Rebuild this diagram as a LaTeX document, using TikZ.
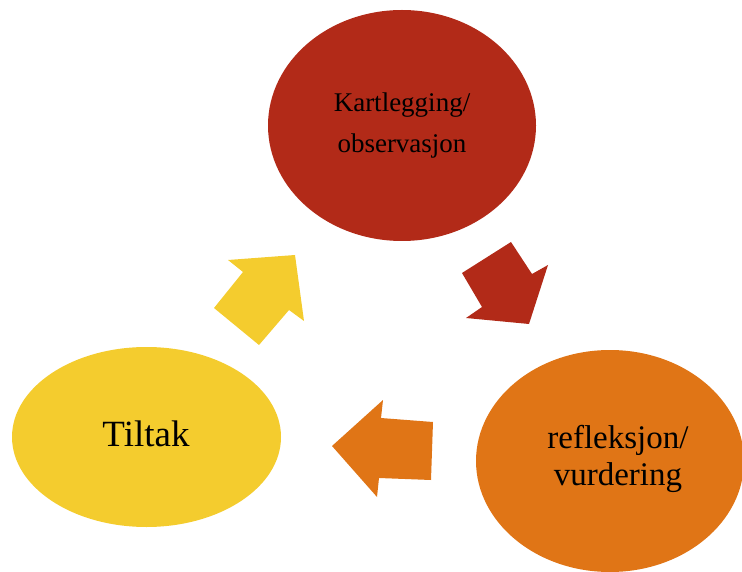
\documentclass[tikz,border=0pt]{standalone}
\usepackage{fontspec}
\setmainfont{Liberation Serif}
\definecolor{cred}{RGB}{178,42,24}
\definecolor{cyel}{RGB}{244,204,46}
\definecolor{corg}{RGB}{224,117,22}
\tikzset{
  blob/.style={fill=#1, draw=none},
  lbl/.style={align=center, text=black, inner sep=0pt}
}
\begin{document}
\begin{tikzpicture}[x=1pt,y=-1pt]
\useasboundingbox (0,0) rectangle (742,572);
\begin{scope}
\clip (0,0) rectangle (742,572);
% ellipses
\fill[blob=cred] (402,125.5) ellipse [x radius=134, y radius=115.5];
\fill[blob=cyel] (146.5,437) ellipse [x radius=134.5, y radius=90];
\fill[blob=corg] (610,461) ellipse [x radius=134, y radius=111];
% arrows
\fill[blob=cyel] (228,260) -- (295,255) -- (304,321) -- (289,310) -- (259,345) -- (214,308) -- (243,272) -- cycle;
\fill[blob=cred] (511,242) -- (532,274) -- (548,265) -- (529,324) -- (466,318) -- (482,307) -- (462,273) -- cycle;
\fill[blob=corg] (383,400) -- (381,418) -- (433,422) -- (431,480) -- (379,478) -- (377,497) -- (332,446) -- cycle;
\end{scope}
% labels
\node[lbl, font=\fontsize{27}{41}\selectfont] (k) at (402,126) {Kartlegging/\\observasjon};
\node[lbl, font=\fontsize{37}{40}\selectfont, anchor=base] (t) at (146,446) {Tiltak};
\node[lbl, font=\fontsize{33}{37}\selectfont] (r) at (618,459) {refleksjon/\\vurdering};
\end{tikzpicture}
\end{document}
